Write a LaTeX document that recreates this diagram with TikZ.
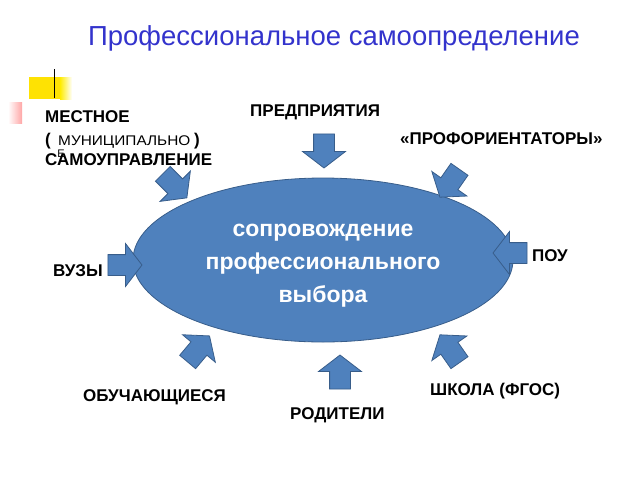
\documentclass[tikz,border=0pt]{standalone}
\usepackage{fontspec}
\setmainfont{Liberation Sans}
\usetikzlibrary{shapes.geometric,shapes.arrows}
\definecolor{eblue}{RGB}{79,129,189}
\definecolor{edge}{RGB}{56,93,138}
\definecolor{ttl}{RGB}{51,51,204}
\tikzstyle{barrow}=[single arrow, draw=edge, fill=eblue, thick, inner xsep=0pt, inner ysep=10pt, minimum height=34pt, single arrow head extend=11pt, single arrow tip angle=105]
\tikzstyle{lbl}=[font=\fontsize{17}{19}\selectfont\bfseries, inner sep=0pt, anchor=west]

\begin{document}
\begin{tikzpicture}[x=1pt, y=-1pt]
\useasboundingbox (0,0) rectangle (640,480);

% decoration
\fill[yellow!85!orange] (29,77) rectangle (60,99);
\shade[left color=yellow!85!orange, right color=white] (60,77) rectangle (72,99);
\shade[left color=white, right color=red!35] (8,102) rectangle (22,123);
\draw[thick] (54,69) -- (54,98);

% title
\node[text=ttl, font=\fontsize{27.5}{30}\selectfont] (t) at (334,38) {Профессиональное самоопределение};

% centre
\node[ellipse, draw=edge, fill=eblue, thick, minimum width=380pt, minimum height=164pt] (c) at (323,260) {};
\node[text=white, font=\fontsize{23}{33}\selectfont\bfseries, align=center] (ct) at (323,266) {сопровождение\\профессионального\\выбора};

% arrows
\node[barrow, rotate=-90] (a1) at (324,147) {};
\node[barrow, rotate=-45] (a2) at (172,183) {};
\node[barrow, rotate=-125] (a3) at (452,180) {};
\node[barrow, rotate=0] (a4) at (121,265) {};
\node[barrow, rotate=180] (a5) at (514,253) {};
\node[barrow, rotate=50] (a6) at (196,352) {};
\node[barrow, rotate=125] (a7) at (452,352) {};
\node[barrow, rotate=90] (a8) at (340,376) {};

% labels
\node[lbl] (l1) at (45,117) {МЕСТНОЕ};
\node[lbl] (l1b) at (45,141) {(};
\node[inner sep=0pt, anchor=west, font=\fontsize{14}{16}\selectfont] (l1c) at (58,142) {\scalebox{1.1}[1]{МУНИЦИПАЛЬНО}};
\node[lbl] (l1d) at (194,141) {)};
\node[lbl] (l1e) at (45,160) {САМОУПРАВЛЕНИЕ};
\node[inner sep=0pt, font=\fontsize{11}{13}\selectfont] (l1f) at (61,154) {Е};
\node[lbl] (l2) at (250,112) {ПРЕДПРИЯТИЯ};
\node[lbl] (l3) at (400,139) {«ПРОФОРИЕНТАТОРЫ»};
\node[lbl] (l4) at (532,256) {ПОУ};
\node[lbl] (l5) at (53,271) {ВУЗЫ};
\node[lbl] (l6) at (83,397) {ОБУЧАЮЩИЕСЯ};
\node[lbl] (l7) at (290,415) {РОДИТЕЛИ};
\node[lbl] (l8) at (430,391) {ШКОЛА (ФГОС)};

\end{tikzpicture}
\end{document}
